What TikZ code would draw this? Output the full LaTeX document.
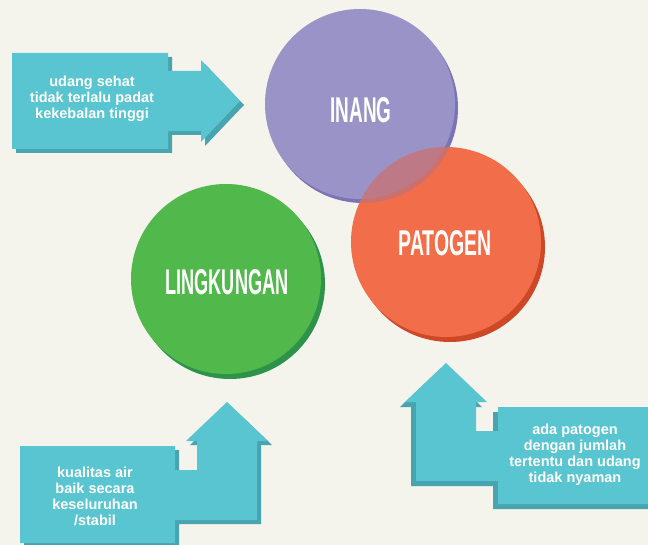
\documentclass[tikz,border=0pt]{standalone}
\usepackage{fontspec}
\setmainfont{Liberation Sans}
\definecolor{bg}{RGB}{244,243,236}
\definecolor{teal}{RGB}{88,197,208}
\definecolor{tealshadow}{RGB}{72,164,174}
\definecolor{purplec}{RGB}{154,147,200}
\definecolor{purpleshadow}{RGB}{122,115,180}
\definecolor{orangec}{RGB}{242,110,75}
\definecolor{orangeshadow}{RGB}{206,72,40}
\definecolor{greenc}{RGB}{81,184,75}
\definecolor{greenshadow}{RGB}{46,147,74}
\tikzset{
  ball/.style={circle, minimum size=190pt, inner sep=0pt},
  balltext/.style={text=white, inner sep=0pt, font=\bfseries},
  boxtext/.style={text=white, align=center, font=\bfseries\fontsize{14.5}{16}\selectfont, inner sep=0pt},
  arrowbody/.style={fill=teal},
  arrowshade/.style={fill=tealshadow}
}
\begin{document}
\begin{tikzpicture}[x=1pt,y=-1pt]
\fill[bg] (0,0) rectangle (648,545);
\useasboundingbox (0,0) rectangle (648,545);

% ---- circles ----
\node[ball, fill=purpleshadow] (inangs) at (363,108) {};
\node[ball, fill=purplec] (inang) at (360,104) {};
\node[ball, fill=orangeshadow] (patogens) at (450,247) {};
\node[ball, fill=orangec] (patogen) at (446,242) {};
\begin{scope}
  \clip (446,242) circle (95);
  \fill[purpleshadow, opacity=0.3] (363,108) circle (95);
  \fill[purplec, opacity=0.3] (360,104) circle (95);
\end{scope}
\node[ball, fill=greenshadow] (lingks) at (230,284) {};
\node[ball, fill=greenc] (lingk) at (226,279) {};

\node[balltext] (tinang) at (361,110) {\resizebox{61pt}{25pt}{INANG}};
\node[balltext] (tpatogen) at (445,243) {\resizebox{93pt}{25pt}{PATOGEN}};
\node[balltext] (tlingk) at (227,282) {\resizebox{123pt}{25pt}{LINGKUNGAN}};

% ---- arrow 1 (right) ----
\begin{scope}[shift={(4,4)}]
\fill[arrowshade] (12,53) -- (168,53) -- (168,71) -- (201,71) -- (201,60) -- (240,101) -- (201,142) -- (201,131) -- (168,131) -- (168,149) -- (12,149) -- cycle;
\end{scope}
\fill[arrowbody] (12,53) -- (168,53) -- (168,71) -- (201,71) -- (201,60) -- (240,101) -- (201,142) -- (201,131) -- (168,131) -- (168,149) -- (12,149) -- cycle;
\node[boxtext] (t1) at (92,99) {udang sehat\\tidak terlalu padat\\kekebalan tinggi};

% ---- arrow 2 (bottom left, up) ----
\begin{scope}[shift={(4,4)}]
\fill[arrowshade] (20,446) -- (175,446) -- (175,470) -- (197,470) -- (197,441) -- (186,441) -- (227,402) -- (268,441) -- (257,441) -- (257,520) -- (175,520) -- (175,543) -- (20,543) -- cycle;
\end{scope}
\fill[arrowbody] (20,446) -- (175,446) -- (175,470) -- (197,470) -- (197,441) -- (186,441) -- (227,402) -- (268,441) -- (257,441) -- (257,520) -- (175,520) -- (175,543) -- (20,543) -- cycle;
\node[boxtext] (t2) at (95,496) {kualitas air\\baik secara\\keseluruhan\\/stabil};

% ---- arrow 3 (bottom right, up) ----
\begin{scope}[shift={(-5,5)}]
\fill[arrowshade] (446,363) -- (487,402) -- (476,402) -- (476,431) -- (498,431) -- (498,407) -- (660,407) -- (660,504) -- (498,504) -- (498,481) -- (416,481) -- (416,402) -- (405,402) -- cycle;
\end{scope}
\fill[arrowbody] (446,363) -- (487,402) -- (476,402) -- (476,431) -- (498,431) -- (498,407) -- (660,407) -- (660,504) -- (498,504) -- (498,481) -- (416,481) -- (416,402) -- (405,402) -- cycle;
\node[boxtext] (t3) at (575,455) {ada patogen\\dengan jumlah\\tertentu dan udang\\tidak nyaman};
\end{tikzpicture}
\end{document}
